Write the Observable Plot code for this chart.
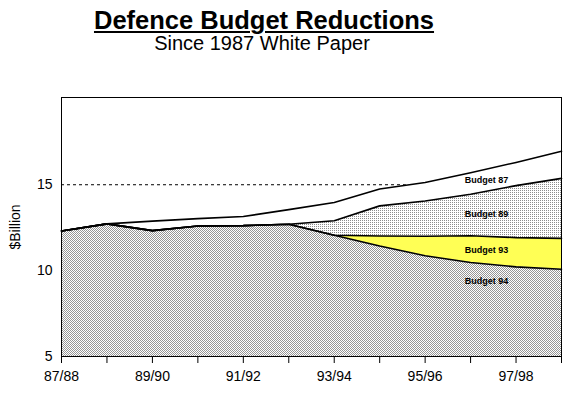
<!DOCTYPE html>
<html><head><meta charset="utf-8">
<script src="https://cdn.jsdelivr.net/npm/d3@7"></script>
<script src="https://cdn.jsdelivr.net/npm/@observablehq/plot@0.6"></script>
<style>
body{margin:0;background:#fff;font-family:"Liberation Sans",Arial,Helvetica,sans-serif;color:#000;}
#wrap{position:relative;width:571px;height:393px;overflow:hidden;}
#title{position:absolute;left:264px;top:8px;transform:translateX(-50%);font-size:25.5px;font-weight:bold;line-height:1;white-space:nowrap;text-decoration:underline;text-decoration-thickness:2px;text-underline-offset:2px;z-index:2;}
#sub{position:absolute;left:262px;top:33px;transform:translateX(-50%);font-size:20px;line-height:1;white-space:nowrap;z-index:2;}
#chart{position:absolute;left:0;top:0;}
</style></head>
<body>
<div id="wrap">
  <div id="title">Defence Budget Reductions</div>
  <div id="sub">Since 1987 White Paper</div>
  <div id="chart"></div>
</div>
<script>
// fiscal years
const years = ["87/88","88/89","89/90","90/91","91/92","92/93","93/94","94/95","95/96","96/97","97/98","98/99"];
// $Billion
const budget87 = [12.31, 12.72, 12.88, 13.03, 13.15, 13.55, 13.97, 14.75, 15.13, 15.70, 16.30, 16.95];
const budget89 = [12.31, 12.72, 12.33, 12.60, 12.62, 12.70, 12.90, 13.77, 14.05, 14.45, 14.95, 15.37];
const budget93 = [12.31, 12.72, 12.33, 12.60, 12.62, 12.70, 12.06, 12.02, 12.00, 12.03, 11.92, 11.88];
const budget94 = [12.31, 12.72, 12.33, 12.60, 12.62, 12.70, 12.06, 11.43, 10.87, 10.47, 10.22, 10.08];
const seriesNames = ["Budget 87","Budget 89","Budget 93","Budget 94"];
const yTicks = [5, 10, 15];
const reference = [15];

const rows = years.map((y, i) => ({i, b87: budget87[i], b89: budget89[i], b93: budget93[i], b94: budget94[i]}));

const labelX = 9.35;
function at(arr, x) { const a = Math.floor(x), b = Math.min(a + 1, arr.length - 1), f = x - a; return arr[a] + (arr[b] - arr[a]) * f; }
const mids = [
  {text: seriesNames[0], y: (at(budget89, labelX) + at(budget87, labelX)) / 2},
  {text: seriesNames[1], y: (at(budget93, labelX) + at(budget89, labelX)) / 2},
  {text: seriesNames[2], y: (at(budget94, labelX) + at(budget93, labelX)) / 2}
];
const bottomLabel = [{text: seriesNames[3], y: at(budget94, labelX)}];

const line = {stroke: "#000", strokeWidth: 1.6};
const chart = Plot.plot({
  width: 571, height: 393,
  marginLeft: 61, marginRight: 10, marginTop: 97, marginBottom: 37,
  x: {domain: [0, 11]},
  y: {domain: [5, 20.08]},
  style: {fontFamily: "Liberation Sans, Arial, Helvetica, sans-serif", fontSize: "14px", background: "transparent", color: "#000"},
  marks: [
    Plot.ruleY(reference, {stroke: "#000", strokeWidth: 1, strokeDasharray: "3,3"}),
    Plot.areaY(rows, {x: "i", y1: 5, y2: "b94", fill: "url(#p94)"}),
    Plot.areaY(rows, {x: "i", y1: "b94", y2: "b93", fill: "#ffff55"}),
    Plot.areaY(rows, {x: "i", y1: "b93", y2: "b89", fill: "url(#p89)"}),
    Plot.areaY(rows, {x: "i", y1: "b89", y2: "b87", fill: "#fff"}),
    Plot.lineY(rows, {x: "i", y: "b94", ...line}),
    Plot.lineY(rows, {x: "i", y: "b93", ...line}),
    Plot.lineY(rows, {x: "i", y: "b89", ...line}),
    Plot.lineY(rows, {x: "i", y: "b87", ...line}),
    Plot.frame({stroke: "#000", strokeWidth: 1}),
    Plot.axisX({ticks: d3.range(years.length), tickSize: 7, tickPadding: 8,
      tickFormat: i => (i % 2 === 0 && i < years.length - 1) ? years[i] : "", label: null}),
    Plot.axisY({ticks: yTicks, tickSize: 0, tickPadding: 9, label: "$Billion",
      labelAnchor: "center", labelArrow: "none", labelOffset: 51}),
    Plot.text(mids, {x: () => labelX, y: "y", text: "text", fontWeight: "bold", fontSize: 9, fill: "#000"}),
    Plot.text(bottomLabel, {x: () => labelX, y: "y", text: "text", fontWeight: "bold", fontSize: 9, fill: "#000", dy: 17})
  ]
});

const defs = document.createElementNS("http://www.w3.org/2000/svg", "defs");
defs.innerHTML = `
<pattern id="p94" patternUnits="userSpaceOnUse" x="0" y="0" width="2" height="2">
  <rect width="2" height="2" fill="#fff" shape-rendering="crispEdges"/>
  <rect x="0" y="0" width="1" height="1" fill="#969696" shape-rendering="crispEdges"/>
  <rect x="1" y="1" width="1" height="1" fill="#969696" shape-rendering="crispEdges"/>
</pattern>
<pattern id="p89" patternUnits="userSpaceOnUse" x="0" y="0" width="2" height="2">
  <rect width="2" height="2" fill="#fff" shape-rendering="crispEdges"/>
  <rect x="0" y="0" width="1" height="1" fill="#8c8c8c" shape-rendering="crispEdges"/>
</pattern>`;
chart.insertBefore(defs, chart.firstChild);
document.getElementById("chart").appendChild(chart);
</script>
</body></html>
